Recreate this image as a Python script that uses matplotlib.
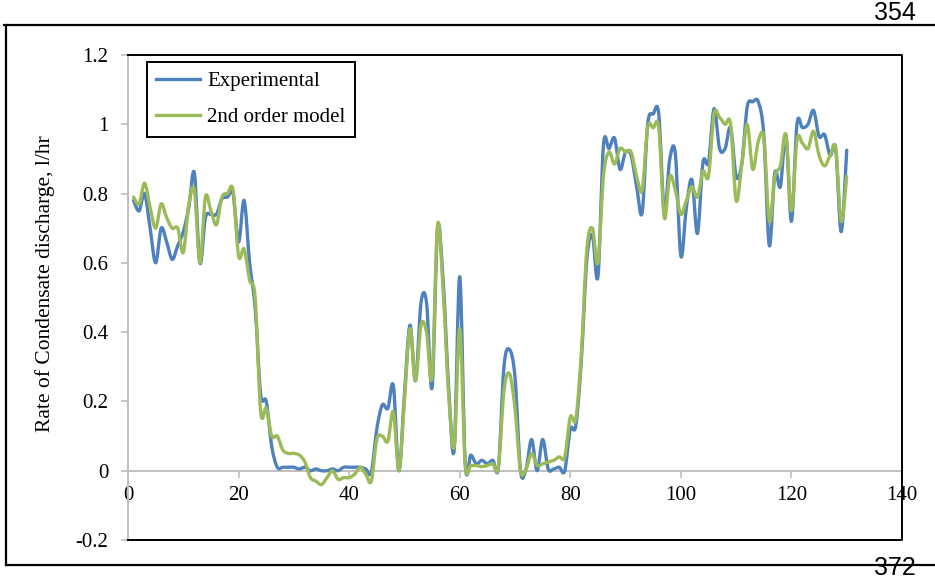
import matplotlib
matplotlib.use("Agg")
import matplotlib.pyplot as plt
from matplotlib.path import Path
from matplotlib.patches import PathPatch
from matplotlib.lines import Line2D

# ---------------- data ----------------
time_points = list(range(1, 131))

experimental = [
    0.78, 0.75, 0.80, 0.70, 0.60, 0.70, 0.66, 0.61, 0.65, 0.69,
    0.76, 0.86, 0.60, 0.73, 0.74, 0.74, 0.785, 0.79, 0.80, 0.66,
    0.78, 0.60, 0.47, 0.22, 0.20, 0.07, 0.01, 0.01, 0.01, 0.01,
    0.005, 0.01, 0.0, 0.005, 0.0, 0.0, 0.005, 0.0, 0.01, 0.01,
    0.01, 0.01, 0.005, -0.005, 0.12, 0.19, 0.18, 0.245, 0.0, 0.22,
    0.42, 0.26, 0.485, 0.485, 0.24, 0.70, 0.55, 0.24, 0.06, 0.56,
    0.02, 0.045, 0.02, 0.03, 0.02, 0.03, 0.01, 0.30, 0.35, 0.27,
    0.0, 0.005, 0.09, 0.0, 0.09, 0.005, 0.005, 0.01, 0.0, 0.12,
    0.13, 0.32, 0.61, 0.68, 0.56, 0.94, 0.93, 0.96, 0.87, 0.92,
    0.91, 0.82, 0.745, 1.0, 1.03, 1.03, 0.75, 0.90, 0.915, 0.62,
    0.76, 0.84, 0.685, 0.89, 0.89, 1.045, 0.93, 0.93, 0.99, 0.85,
    0.885, 1.05, 1.065, 1.065, 0.97, 0.65, 0.86, 0.82, 0.97, 0.72,
    1.0, 0.99, 1.0, 1.04, 0.965, 0.97, 0.91, 0.93, 0.69, 0.925,
]

model_2nd_order = [
    0.79, 0.77, 0.83, 0.76, 0.70, 0.77, 0.73, 0.70, 0.70, 0.63,
    0.77, 0.81, 0.60, 0.79, 0.75, 0.71, 0.79, 0.80, 0.81, 0.62,
    0.64, 0.55, 0.50, 0.17, 0.18, 0.10, 0.10, 0.06, 0.05, 0.05,
    0.045, 0.025, -0.02, -0.03, -0.04, -0.02, 0.0, -0.025, -0.02, -0.02,
    -0.01, 0.01, -0.01, -0.03, 0.09, 0.10, 0.085, 0.17, 0.0, 0.20,
    0.41, 0.26, 0.42, 0.40, 0.27, 0.71, 0.52, 0.22, 0.07, 0.41,
    0.02, 0.015, 0.015, 0.012, 0.015, 0.02, 0.01, 0.23, 0.28, 0.18,
    0.0, 0.005, 0.05, 0.015, 0.02, 0.025, 0.03, 0.04, 0.04, 0.155,
    0.15, 0.34, 0.64, 0.70, 0.60, 0.85, 0.92, 0.885, 0.93, 0.92,
    0.92, 0.85, 0.81, 0.99, 0.99, 0.99, 0.73, 0.85, 0.81, 0.74,
    0.78, 0.82, 0.79, 0.865, 0.85, 1.03, 1.02, 1.0, 1.0, 0.78,
    0.88, 1.0, 0.87, 0.95, 0.96, 0.72, 0.85, 0.88, 0.97, 0.75,
    0.955, 0.945, 0.93, 0.98, 0.91, 0.88, 0.91, 0.93, 0.72, 0.85,
]

series_labels = ["Experimental", "2nd order model"]
x_ticks = [0, 20, 40, 60, 80, 100, 120, 140]
y_ticks = [-0.2, 0, 0.2, 0.4, 0.6, 0.8, 1.0, 1.2]
y_tick_labels = ["-0.2", "0", "0.2", "0.4", "0.6", "0.8", "1", "1.2"]
y_label = "Rate of Condensate discharge, l/hr"

# ---------------- style ----------------
BLUE = "#4F81BD"
GREEN = "#9BBB59"
GRAY = "#BFBFBF"
SERIF = ["Liberation Serif", "DejaVu Serif"]
FS = 15

W, H = 935, 582
fig = plt.figure(figsize=(W / 100, H / 100), dpi=100)
fig.patch.set_facecolor("white")

L, R, T, B = 128, 902, 55, 540
ax = fig.add_axes([L / W, 1 - B / H, (R - L) / W, (B - T) / H])
ax.set_xlim(0, 140)
ax.set_ylim(-0.2, 1.2)


def smooth_path(xs, ys):
    """Excel-like smoothed line as cubic Bezier segments (Catmull-Rom)."""
    n = len(xs)
    verts = [(xs[0], ys[0])]
    codes = [Path.MOVETO]
    for i in range(n - 1):
        p0 = i - 1 if i > 0 else i
        p3 = i + 2 if i + 2 < n else i + 1
        c1 = (xs[i] + (xs[i + 1] - xs[p0]) / 6.0, ys[i] + (ys[i + 1] - ys[p0]) / 6.0)
        c2 = (xs[i + 1] - (xs[p3] - xs[i]) / 6.0, ys[i + 1] - (ys[p3] - ys[i]) / 6.0)
        verts += [c1, c2, (xs[i + 1], ys[i + 1])]
        codes += [Path.CURVE4] * 3
    return Path(verts, codes)


for vals, col in [(experimental, BLUE), (model_2nd_order, GREEN)]:
    patch = PathPatch(smooth_path(time_points, vals), facecolor="none",
                      edgecolor=col, lw=2.4, capstyle="round", joinstyle="round",
                      zorder=3)
    ax.add_patch(patch)

# axes styling
for s in ["top", "right"]:
    ax.spines[s].set_visible(False)
ax.spines["bottom"].set_position(("data", 0))
ax.spines["bottom"].set_color(GRAY)
ax.spines["bottom"].set_linewidth(1.4)
ax.spines["left"].set_color(GRAY)
ax.spines["left"].set_linewidth(1.4)
ax.spines["bottom"].set_zorder(2)

# black plot-area border (top, right, bottom)
ax.add_line(Line2D([0, 1, 1, 0], [1, 1, 0, 0], transform=ax.transAxes,
                   color="black", lw=1.4, clip_on=False, zorder=4))

ax.set_xticks(x_ticks)
ax.set_xticklabels([str(v) for v in x_ticks])
ax.set_yticks(y_ticks)
ax.set_yticklabels(y_tick_labels)
ax.tick_params(axis="both", direction="out", length=5, width=1.2, color=GRAY,
               labelsize=FS, labelcolor="black")
ax.tick_params(axis="y", pad=9)
ax.tick_params(axis="x", pad=6)
for lab in ax.get_xticklabels() + ax.get_yticklabels():
    lab.set_fontfamily(SERIF)

fig.text(45 / W, 1 - 284 / H, y_label, rotation=90, ha="center", va="center",
         fontsize=FS + 0.5, family=SERIF)

handles = [Line2D([], [], color=BLUE, lw=2.4), Line2D([], [], color=GREEN, lw=2.4)]
leg = ax.legend(handles, series_labels, loc="upper left",
                bbox_to_anchor=((147 - L) / (R - L), (B - 62) / (B - T)),
                borderaxespad=0, frameon=True, fancybox=False, framealpha=1,
                edgecolor="black", handlelength=2.1, handletextpad=0.35,
                labelspacing=0.8, borderpad=0.45, prop={"family": SERIF, "size": FS})
leg.get_frame().set_linewidth(1.4)
leg.set_zorder(5)

# outer page frame and page numbers
fig.add_artist(Line2D([4 / W, 1], [1 - 25 / H, 1 - 25 / H], transform=fig.transFigure,
                      color="black", lw=1.6))
fig.add_artist(Line2D([6 / W, 6 / W], [1 - 25 / H, 1 - 565 / H], transform=fig.transFigure,
                      color="black", lw=1.6))
fig.add_artist(Line2D([6 / W, 1], [1 - 565 / H, 1 - 565 / H], transform=fig.transFigure,
                      color="black", lw=1.6))
NARROW = ["Liberation Sans Narrow", "Liberation Sans", "DejaVu Sans"]
fig.text(916 / W, 1 - 13 / H, "354", ha="right", va="center", fontsize=18, family=NARROW)
fig.text(916 / W, 1 - 568 / H, "372", ha="right", va="center", fontsize=18, family=NARROW)

fig.savefig("out.png", dpi=100, facecolor="white")
